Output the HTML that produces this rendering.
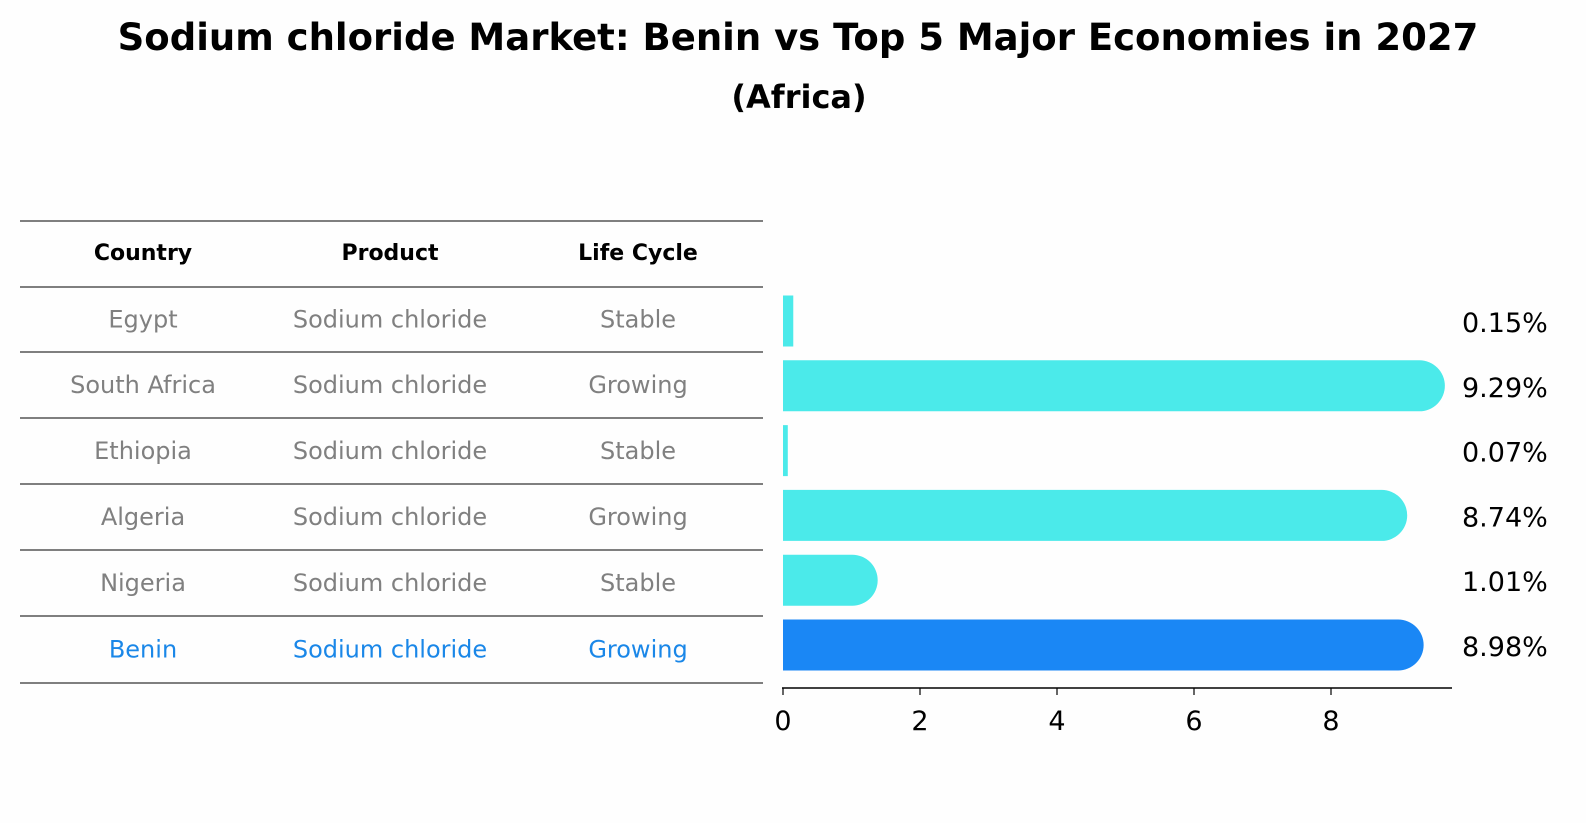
<!DOCTYPE html>
<html><head><meta charset="utf-8"><style>
html,body{margin:0;padding:0;overflow:hidden;width:1586px;height:823px;background:#fefefe;font-family:"DejaVu Sans","Liberation Sans",sans-serif;}
#root{position:relative;width:1586px;height:823px;overflow:hidden;}
.t{position:absolute;white-space:nowrap;}
</style></head><body><div id="root">
<svg id="svg" width="1586" height="823" style="position:absolute;left:0;top:0;display:block;font-family:'DejaVu Sans',sans-serif;">
<text x="798" y="50" text-anchor="middle" font-size="37" font-weight="bold">Sodium chloride Market: Benin vs Top 5 Major Economies in 2027</text>
<text x="799" y="108" text-anchor="middle" font-size="32" font-weight="bold">(Africa)</text>
</svg>
</div>
<script>
const countries=["Egypt","South Africa","Ethiopia","Algeria","Nigeria","Benin"];
const products=["Sodium chloride","Sodium chloride","Sodium chloride","Sodium chloride","Sodium chloride","Sodium chloride"];
const lifecycle=["Stable","Growing","Stable","Growing","Stable","Growing"];
const values=[0.15,9.29,0.07,8.74,1.01,8.98];
const ticks=[0,2,4,6,8];
const svg=document.getElementById('svg');
const NS='http://www.w3.org/2000/svg';
function mk(t,a){const e=document.createElementNS(NS,t);for(const k in a)e.setAttribute(k,a[k]);svg.appendChild(e);return e;}
const x=v=>783+v*68.5;
const rowY=i=>321+i*64.8;
const lines=[221,287,352,418,484,550,616,683];
lines.forEach(ly=>{const l=mk('line',{x1:20,x2:763,y1:ly,y2:ly,stroke:'#000','stroke-width':1});

});
const cx=[143,390,638];
["Country","Product","Life Cycle"].forEach((h,j)=>{const t=mk('text',{x:cx[j],y:260,'text-anchor':'middle','font-size':22,'font-weight':'bold'});t.textContent=h;

});
countries.forEach((c,i)=>{
 const col=i===5?'#1a87e8':'#808080';
 const ty=(lines[i+1]+lines[i+2])/2+8;
 [c,products[i],lifecycle[i]].forEach((s,j)=>{const t=mk('text',{x:cx[j],y:ty,'text-anchor':'middle','font-size':24,fill:col});t.textContent=s;
 
 });
 const h=51,y0=rowY(i)-h/2,w=x(values[i])-x(0);
 const color=i===5?'#1a87f5':'#4beaea';
 const r=h/2;
 let d;
 if(values[i]>0.5){d=`M${x(0)},${y0} h${w} a${r},${r} 0 0 1 0,${h} h${-w} z`;}
 else d=`M${x(0)},${y0} h${w} v${h} h${-w} z`;
 const b=mk('path',{d:d,fill:color});
 
 
 const lb=mk('text',{x:1462,y:rowY(i)+11,'font-size':27});lb.textContent=values[i].toFixed(2)+'%';
 
 
});
const ax=mk('line',{x1:782,x2:1452,y1:688,y2:688,stroke:'#000','stroke-width':1.5});


ticks.forEach(v=>{const tk=mk('line',{x1:x(v),x2:x(v),y1:688,y2:695,stroke:'#000','stroke-width':1.2});


const t=mk('text',{x:x(v),y:730,'text-anchor':'middle','font-size':27});t.textContent=v;

});
</script></body></html>
